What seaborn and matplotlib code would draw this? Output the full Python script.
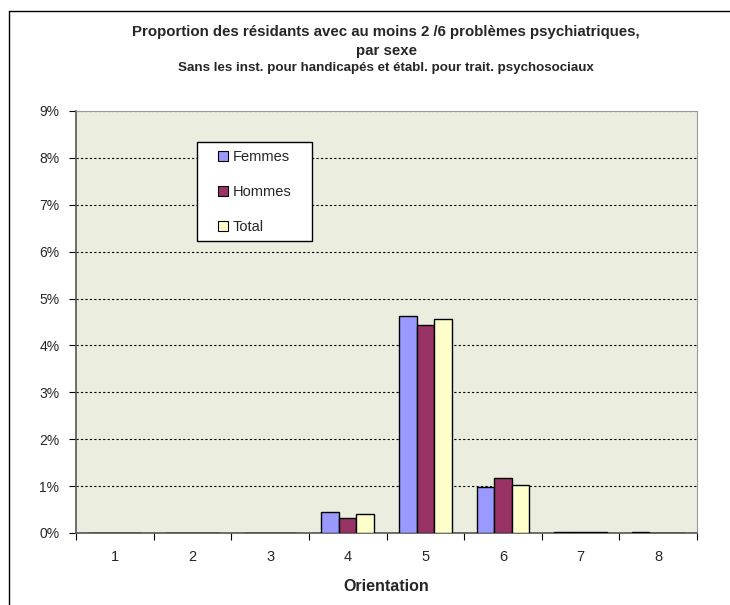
"""
Proportion des residants avec au moins 2/6 problemes psychiatriques, par sexe
Grouped bar chart with seaborn
"""
import numpy as np
import pandas as pd
import matplotlib
matplotlib.use("Agg")
import matplotlib.pyplot as plt
from matplotlib.lines import Line2D
from matplotlib.patches import Rectangle
from matplotlib.ticker import FuncFormatter, MultipleLocator
import seaborn as sns

#****************************************
# Data (values in %)
orientations = ["1", "2", "3", "4", "5", "6", "7", "8"]
femmes = [0.0, 0.0, 0.0, 0.44, 4.63, 0.99, 0.03, 0.02]
hommes = [0.0, 0.0, 0.0, 0.31, 4.43, 1.17, 0.03, 0.0]
total  = [0.0, 0.0, 0.0, 0.40, 4.57, 1.03, 0.03, 0.0]
series = ["Femmes", "Hommes", "Total"]
colors = ["#9999FF", "#993366", "#FFFFCC"]

df = pd.DataFrame({
    "Orientation": orientations * 3,
    "Sexe": np.repeat(series, len(orientations)),
    "Valeur": femmes + hommes + total,
})

#****************************************
sns.set_style("white")
plt.rcParams["font.family"] = ["Liberation Sans", "DejaVu Sans"]

fig = plt.figure(figsize=(7.3, 6.05), dpi=100)
ax = fig.add_axes([76/730, 1 - 533/605, (697-76)/730, (533-111)/605])
ax.set_facecolor("#EBEEDF")

sns.barplot(data=df, x="Orientation", y="Valeur", hue="Sexe",
            palette=colors, saturation=1, width=0.68, edgecolor="black",
            linewidth=1.0, errorbar=None, ax=ax, zorder=3)

ax.set_ylim(0, 9)
ax.set_xlim(-0.5, 7.5)
ax.yaxis.set_major_locator(MultipleLocator(1))
ax.yaxis.set_major_formatter(FuncFormatter(lambda v, p: f"{v:.0f}%"))
ax.grid(axis="y", color="black", linestyle=(0, (2, 2)), linewidth=0.8, zorder=0)
ax.set_axisbelow(True)

# tick marks between groups, labels at centers
ax.set_xticks(np.arange(-0.5, 8, 1), minor=False)
ax.set_xticklabels([])
ax.set_xticks(np.arange(8), minor=True)
ax.set_xticklabels(orientations, minor=True, fontsize=10.5)
ax.tick_params(axis="x", which="minor", length=0, pad=12)
ax.tick_params(axis="x", which="major", length=5, direction="out", color="black", bottom=True)
ax.tick_params(axis="y", length=5, direction="out", color="black", left=True, labelsize=10, pad=7)

for s in ["top", "right"]:
    ax.spines[s].set_color("#999999")
for s in ["left", "bottom"]:
    ax.spines[s].set_color("#555555")
    ax.spines[s].set_linewidth(1.2)

ax.set_ylabel("")
ax.set_xlabel("Orientation", fontsize=11.5, fontweight="bold", labelpad=11)

# legend box (drawn separately so its padding matches the original)
box = Rectangle((197/730, 1 - 241/605), 115/730, 99/605, transform=fig.transFigure,
                facecolor="white", edgecolor="black", linewidth=1.0,
                zorder=4, clip_on=False)
ax.add_patch(box)
leg = ax.legend(loc="upper left", bbox_to_anchor=(218/730, 1 - 150/605),
                bbox_transform=fig.transFigure, frameon=False, fontsize=10.5,
                labelspacing=1.45, handlelength=0.7, handleheight=0.7,
                handletextpad=0.3, borderpad=0, borderaxespad=0)
leg.set_zorder(6)
for h in leg.legend_handles:
    h.set_edgecolor("black")
    h.set_linewidth(0.8)

# titles
fig.text(386/730, 1 - 32/605, "Proportion des résidants avec au moins 2 /6 problèmes psychiatriques,",
         ha="center", va="center", fontsize=10.8, fontweight="bold")
fig.text(386/730, 1 - 51/605, "par sexe", ha="center", va="center",
         fontsize=10.8, fontweight="bold")
fig.text(386/730, 1 - 68/605, "Sans les inst. pour handicapés et établ. pour trait. psychosociaux",
         ha="center", va="center", fontsize=9.6, fontweight="bold")

# figure border (top and left)
fig.add_artist(Line2D([9/730, 1], [1 - 11/605, 1 - 11/605], color="black", linewidth=1.0))
fig.add_artist(Line2D([9/730, 9/730], [0, 1 - 11/605], color="black", linewidth=1.0))

fig.savefig("out.png", dpi=100, facecolor="white")
